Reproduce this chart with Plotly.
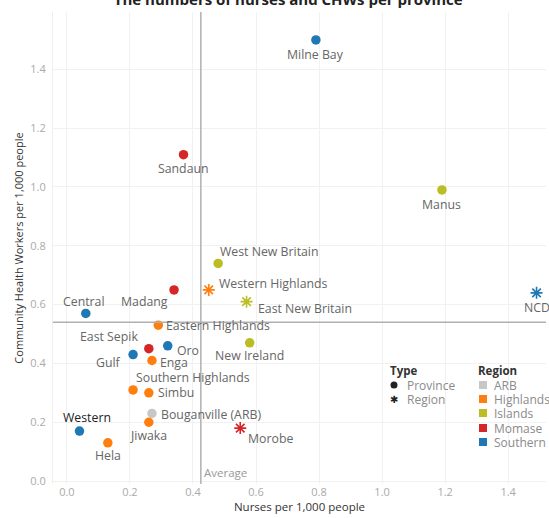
import plotly.graph_objects as go

# ---- data ----
names = ["Milne Bay", "Sandaun", "Manus", "NCD", "West New Britain", "Western Highlands",
         "East New Britain", "Madang", "Eastern Highlands", "New Ireland", "Central",
         "East Sepik", "Oro", "Gulf", "Enga", "Southern Highlands", "Simbu",
         "Bouganville (ARB)", "Jiwaka", "Western", "Hela", "Morobe"]
nurses = [0.79, 0.37, 1.19, 1.49, 0.48, 0.45, 0.57, 0.34, 0.29, 0.58, 0.06,
          0.26, 0.32, 0.21, 0.27, 0.21, 0.26, 0.27, 0.26, 0.04, 0.13, 0.55]
chws = [1.50, 1.11, 0.99, 0.64, 0.74, 0.65, 0.61, 0.65, 0.53, 0.47, 0.57,
        0.45, 0.46, 0.43, 0.41, 0.31, 0.30, 0.23, 0.20, 0.17, 0.13, 0.18]
region = ["Southern", "Momase", "Islands", "Southern", "Islands", "Highlands",
          "Islands", "Momase", "Highlands", "Islands", "Southern",
          "Momase", "Southern", "Southern", "Highlands", "Highlands", "Highlands",
          "ARB", "Highlands", "Southern", "Highlands", "Momase"]
kind = ["Province", "Province", "Province", "Region", "Province", "Region",
        "Region", "Province", "Province", "Province", "Province",
        "Province", "Province", "Province", "Province", "Province", "Province",
        "Province", "Province", "Province", "Province", "Region"]
avg_nurses = 0.425
avg_chws = 0.54
x_ticks = [0.0, 0.2, 0.4, 0.6, 0.8, 1.0, 1.2, 1.4]
y_ticks = [0.0, 0.2, 0.4, 0.6, 0.8, 1.0, 1.2, 1.4]
region_order = ["ARB", "Highlands", "Islands", "Momase", "Southern"]
type_order = ["Province", "Region"]

# ---- styles ----
colors = {"ARB": "#c7c7c7", "Highlands": "#ff7f0e", "Islands": "#bcbd22",
          "Momase": "#d62728", "Southern": "#1f77b4"}
# label placement: (xanchor, xshift px, yshift px; positive y = down)
label_style = {
    "Milne Bay": ("center", 0, 15), "Sandaun": ("center", 0, 14), "Manus": ("center", 0, 15),
    "NCD": ("center", 0, 15), "West New Britain": ("left", 0, -12),
    "Western Highlands": ("left", 8, -6), "East New Britain": ("left", 9, 7),
    "Madang": ("right", -4, 12), "Eastern Highlands": ("left", 6, 0),
    "New Ireland": ("center", 0, 13), "Central": ("center", -2, -12),
    "East Sepik": ("right", -9, -12), "Oro": ("left", 7, 5), "Gulf": ("right", -10, 8),
    "Enga": ("left", 6, 2), "Southern Highlands": ("left", 1, -12), "Simbu": ("left", 7, 0),
    "Bouganville (ARB)": ("left", 7, 1), "Jiwaka": ("center", 0, 13),
    "Western": ("center", 8, -14), "Hela": ("center", 0, 13), "Morobe": ("left", 6, 10)}
FONT = "Open Sans"
TXT = "#666666"
W, H = 549, 518
ML, MR, MT, MB = 53, 3, 12, 34


def px_x(px):
    return (px - ML) / (W - ML - MR)


def px_y(py):
    return (H - MB - py) / (H - MT - MB)


fig = go.Figure()
for k, sym in [("Province", "circle"), ("Region", "asterisk-open")]:
    idx = [i for i in range(len(names)) if kind[i] == k]
    cols = [colors[region[i]] for i in idx]
    marker = dict(symbol=sym, size=9.5 if k == "Province" else 10, color=cols,
                  line=dict(width=0 if k == "Province" else 1.6, color=cols))
    fig.add_trace(go.Scatter(
        x=[nurses[i] for i in idx], y=[chws[i] for i in idx],
        mode="markers", marker=marker, showlegend=False, hoverinfo="skip"))

for i, n in enumerate(names):
    xa, dx, dy = label_style[n]
    fig.add_annotation(x=nurses[i], y=chws[i], xref="x", yref="y", text=n, showarrow=False,
                       xanchor=xa, yanchor="middle", xshift=dx, yshift=-dy,
                       font=dict(family=FONT, size=12.3,
                                 color="#222222" if n == "Western" else TXT))

# reference lines
fig.add_shape(type="line", xref="x", yref="paper", x0=avg_nurses, x1=avg_nurses, y0=0, y1=1,
              line=dict(color="#b0b0b0", width=1.5))
fig.add_shape(type="line", xref="paper", yref="y", x0=0, x1=1, y0=avg_chws, y1=avg_chws,
              line=dict(color="#b0b0b0", width=1.5))
fig.add_annotation(x=avg_nurses, y=0, xref="x", yref="paper", text="Average", showarrow=False,
                   xanchor="left", yanchor="bottom", xshift=1, yshift=2,
                   font=dict(family=FONT, size=11.5, color="#999999"))

# legend built from shapes and annotations
head_y = 370
row_y = [385, 399, 413, 428, 442]
hfont = dict(family=FONT, size=11.5, color="#333333")
ifont = dict(family=FONT, size=12, color="#8a8a8a")
fig.add_annotation(xref="paper", yref="paper", x=px_x(388), y=px_y(head_y), text="<b>Type</b>",
                   showarrow=False, xanchor="left", yanchor="middle", font=hfont)
fig.add_annotation(xref="paper", yref="paper", x=px_x(476), y=px_y(head_y), text="<b>Region</b>",
                   showarrow=False, xanchor="left", yanchor="middle", font=hfont)
for j, lab in enumerate(type_order):
    yy = px_y(row_y[j])
    if lab == "Province":
        fig.add_shape(type="circle", xref="paper", yref="paper", xsizemode="pixel",
                      ysizemode="pixel", xanchor=px_x(394), yanchor=yy,
                      x0=-3.5, x1=3.5, y0=-3.5, y1=3.5,
                      fillcolor="#222222", line=dict(width=0))
    else:
        fig.add_annotation(xref="paper", yref="paper", x=px_x(394), y=yy, text="✱",
                           showarrow=False, xanchor="center", yanchor="middle",
                           font=dict(family="DejaVu Sans", size=10, color="#222222"))
    fig.add_annotation(xref="paper", yref="paper", x=px_x(405), y=yy, text=lab,
                       showarrow=False, xanchor="left", yanchor="middle", font=ifont)
for j, r in enumerate(region_order):
    yy = px_y(row_y[j])
    fig.add_shape(type="rect", xref="paper", yref="paper", xsizemode="pixel",
                  ysizemode="pixel", xanchor=px_x(483), yanchor=yy,
                  x0=-4, x1=4, y0=-4, y1=4, fillcolor=colors[r], line=dict(width=0))
    fig.add_annotation(xref="paper", yref="paper", x=px_x(492), y=yy, text=r,
                       showarrow=False, xanchor="left", yanchor="middle", font=ifont)

fig.update_layout(
    width=W, height=H,
    margin=dict(l=ML, r=MR, t=MT, b=MB),
    plot_bgcolor="white", paper_bgcolor="white",
    title=dict(text="<b>The numbers of nurses and CHWs per province</b>", x=0.525, xanchor="center",
               y=1.0, yanchor="middle", font=dict(family=FONT, size=15, color="#222222")),
    xaxis=dict(range=[-0.044, 1.52], tickvals=x_ticks, ticktext=[f"{v:.1f}" for v in x_ticks],
               showgrid=True, gridcolor="#f1f1f1", zeroline=False, showline=False,
               tickfont=dict(family=FONT, size=11, color="#aaaaaa"),
               title=dict(text="Nurses per 1,000 people", standoff=4,
                          font=dict(family=FONT, size=11.5, color="#333333"))),
    yaxis=dict(range=[-0.01, 1.595], tickvals=y_ticks, ticktext=[f"{v:.1f}" for v in y_ticks],
               showgrid=True, gridcolor="#f1f1f1", zeroline=False, showline=True,
               linecolor="#eeeeee",
               tickfont=dict(family=FONT, size=11, color="#aaaaaa"), ticklabelstandoff=4,
               title=dict(text="Community Health Workers per 1,000 people", standoff=4,
                          font=dict(family=FONT, size=11, color="#333333"))),
)

fig.write_html("out.html", config={"displayModeBar": False},
               post_script="document.body.style.margin='0px';")
